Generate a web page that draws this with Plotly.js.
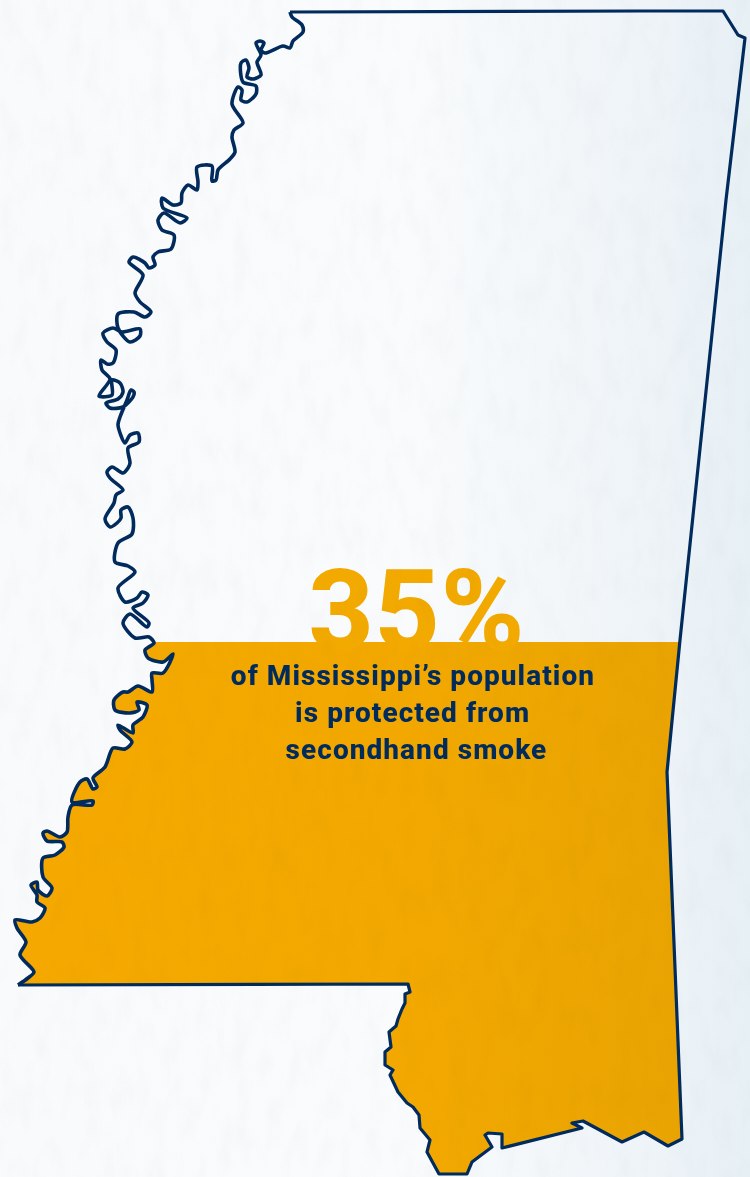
<!DOCTYPE html>
<html>
<head>
<meta charset="utf-8">
<script src="https://cdn.plot.ly/plotly-3.0.1.min.js"></script>
<style>
  html, body { margin: 0; padding: 0; width: 750px; height: 1177px; overflow: hidden; }
  body { background: linear-gradient(90deg, #f9fafb 0%, #f9fbfc 55%, #eff4f8 85%, #e7f0f5 100%); position: relative; }
  #chart { position: absolute; left: 0; top: 0; width: 750px; height: 1177px; }
  #chart .annotation-text { letter-spacing: 1.05px; }
  #chart .annotation:first-child .annotation-text { letter-spacing: 0; }
  #chart .scatterlayer .js-line { stroke-linejoin: round; }
  /* faint paper grain laid over the whole sheet */
  #grain {
    position: absolute; left: 0; top: 0; width: 750px; height: 1177px; pointer-events: none;
    mix-blend-mode: multiply;
    background-image: url("data:image/svg+xml;utf8,<svg xmlns='http://www.w3.org/2000/svg' width='750' height='1177'><filter id='g'><feTurbulence type='fractalNoise' baseFrequency='0.06 0.025' numOctaves='4' seed='7'/><feColorMatrix values='0 0 0 0 0.35  0 0 0 0 0.38  0 0 0 0 0.42  0 0 1.8 0 -0.8'/></filter><rect width='750' height='1177' filter='url(%23g)' opacity='0.05'/></svg>");
  }
</style>
</head>
<body>
<div id="chart"></div>
<div id="grain"></div>
<script>
// Western river border, north to south, in sheet coordinates
const riverX = [290,292,302,303,293,290,283,265,261,264,260,256,261,257,261,253,247,249,246,241,243,256,256,247,241,242,238,232,243,234,232,235,230,218,216,212,212,197,198,197,188,182,181,173,162,163,187,180,164,158,162,174,171,158,153,155,149,145,133,129,143,135,140,151,145,134,118,118,130,140,140,122,113,103,107,116,113,107,101,102,110,99,112,112,120,123,118,106,110,123,133,134,131,127,120,118,125,130,138,139,128,130,128,123,112,107,110,123,116,114,105,110,117,121,121,128,133,132,118,115,128,135,118,125,137,142,148,143,133,149,147,130,123,135,149,154,145,148,163,173,163,152,152,152,138,128,123,114,115,130,139,137,147,143,133,133,118,120,132,125,113,105,93,97,93,87,80,72,93,92,72,68,67,60,47,43,47,62,64,55,43,43,52,47,38,37,31,37,37,45,40,32,15,17,26,20,34,28,18];
const riverY = [12,17,25,32,41,48,46,53,50,43,41,43,55,62,75,79,77,68,60,63,82,86,94,102,100,90,87,104,123,130,137,152,159,170,180,181,166,167,182,190,185,193,203,205,198,208,218,223,213,220,230,235,249,252,257,265,268,263,257,262,275,293,302,312,317,312,314,328,342,336,329,332,328,333,342,350,363,364,360,370,379,396,395,380,383,392,399,403,408,407,397,392,390,400,417,425,443,435,433,442,448,463,468,473,467,472,478,490,495,503,519,527,523,518,510,507,518,534,543,562,566,572,588,602,598,592,595,603,608,623,627,614,623,638,637,643,650,658,662,654,673,673,680,692,686,692,692,700,710,713,710,702,705,717,725,733,725,730,742,749,748,767,778,787,789,779,782,802,801,805,805,817,832,837,831,833,841,842,847,855,858,877,888,896,890,882,885,895,902,908,918,922,920,928,942,955,972,978,985];

// Southern state line, Pearl River and Gulf coast, then the straight eastern and northern lines
const borderX = [18,270,408,410,405,405,402,398,396,389,391,385,385,393,390,398,407,413,419,420,430,427,439,467,472,492,485,488,502,502,582,572,583,622,644,668,682,667,680,726,745,738,732,723,640,290];
const borderY = [985,984,984,992,994,1003,1009,1019,1026,1032,1047,1052,1065,1070,1075,1092,1103,1107,1115,1128,1140,1152,1174,1174,1162,1147,1135,1133,1134,1148,1128,1123,1121,1142,1132,1146,1139,772,640,200,38,35,25,11,11,12];

// Share of the population covered, and the level the state is filled up to
const coveredPercent = [35];
const fillLevelY = [642];

const captionLines = ["of Mississippi’s population", "is protected from", "secondhand smoke"];
const captionX = [413, 412.5, 416.5];
const captionY = [675, 712, 749];

const NAVY = "#002b5c";
const AMBER = "#f2a900";

// Keep only the part of the outline below the fill level
function clipBelow(xs, ys, level) {
  const ox = [], oy = [];
  for (let i = 0; i < xs.length; i++) {
    const j = (i + 1) % xs.length;
    const inA = ys[i] >= level, inB = ys[j] >= level;
    if (inA) { ox.push(xs[i]); oy.push(ys[i]); }
    if (inA !== inB) {
      const t = (level - ys[i]) / (ys[j] - ys[i]);
      ox.push(xs[i] + t * (xs[j] - xs[i])); oy.push(level);
    }
  }
  ox.push(ox[0]); oy.push(oy[0]);
  return [ox, oy];
}

const [fillX, fillY] = clipBelow(riverX.concat(borderX), riverY.concat(borderY), fillLevelY[0]);

const traces = [
  {
    x: fillX, y: fillY, mode: "lines", line: { width: 0 }, fill: "toself",
    fillgradient: { type: "horizontal", colorscale: [[0, "#f5a900"], [0.6, "#f2a800"], [1, "#e9a402"]] },
    hoverinfo: "skip", showlegend: false
  },
  {
    x: riverX, y: riverY, mode: "lines",
    line: { color: NAVY, width: 3.6, shape: "spline", smoothing: 0.8 },
    hoverinfo: "skip", showlegend: false
  },
  {
    x: borderX, y: borderY, mode: "lines",
    line: { color: NAVY, width: 3.2 },
    hoverinfo: "skip", showlegend: false
  }
];

const annotations = [
  {
    x: 417, y: 649, yanchor: "bottom", xanchor: "center", showarrow: false, yshift: -31,
    text: coveredPercent[0] + "%",
    font: { family: "Roboto, sans-serif", size: 113, color: AMBER, weight: 800 }
  }
].concat(captionLines.map((t, i) => ({
  x: captionX[i], y: captionY[i], xanchor: "center", yanchor: "middle", showarrow: false,
  text: t,
  font: { family: "Roboto, sans-serif", size: 28, color: NAVY, weight: 800 }
})));

Plotly.newPlot("chart", traces, {
  width: 750, height: 1177,
  margin: { l: 0, r: 0, t: 0, b: 0 },
  paper_bgcolor: "rgba(0,0,0,0)",
  plot_bgcolor: "rgba(0,0,0,0)",
  xaxis: { range: [0, 750], visible: false, fixedrange: true },
  yaxis: { range: [1177, 0], visible: false, fixedrange: true },
  annotations
}, { staticPlot: true, displayModeBar: false });
</script>
</body>
</html>
